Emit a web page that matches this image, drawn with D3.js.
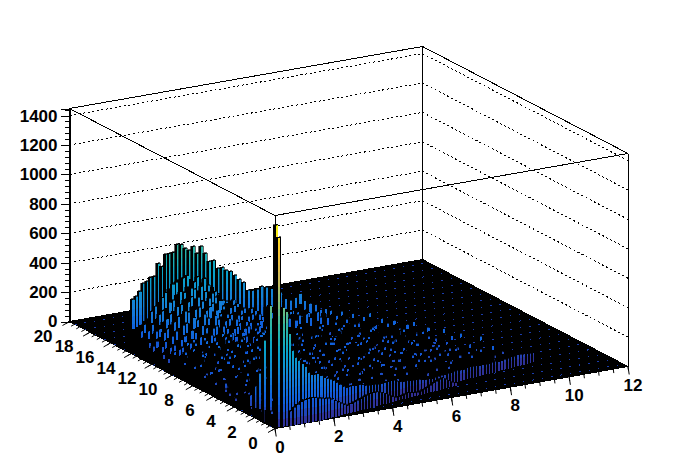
<!DOCTYPE html>
<html><head><meta charset="utf-8">
<script src="https://cdn.jsdelivr.net/npm/d3@7"></script>
<style>html,body{margin:0;background:#fff}svg{display:block}text{font-family:"Liberation Sans",Arial,sans-serif;font-weight:bold;font-size:17px;fill:#000}</style>
</head><body><svg id="c" width="698" height="476"></svg>
<script>
const xLabels=[0,2,4,6,8,10,12];
const yLabels=[0,2,4,6,8,10,12,14,16,18,20];
const zLabels=[0,200,400,600,800,1000,1200,1400];
const birdColors=["#35298a","#0f5cdd","#1481d6","#06a4ca","#2eb7a4","#87bf77","#d1bb59","#fec832","#f9fb0e"];

// tall bars near the front corner and along the x=0 edge: [x, y, z]
const spikeBars=[[.14,.3,1366],[.18,.15,1285],[.18,1,793],[.06,1.2,553],[.06,1.7,310],[.06,2.1,210],[.06,2.6,130],[.06,4.2,56],[.06,5,122],[.06,4.6,70],[.06,9.2,110]];

// outer rim, one bar per x bin
const rimY=[14,14,14,14,13.97,13.96,13.94,13.92,13.9,13.87,13.85,13.81,13.78,13.74,13.7,13.66,13.61,13.57,13.51,13.46,13.4,13.34,13.27,13.2,13.13,13.06,12.98,12.9,12.82,12.73,12.64,12.54,12.44,12.34,12.23,12.11,12,11.88,11.75,11.62,11.49,11.35,11.2,11.05,10.89,10.73,10.56,10.38,10.2,10.01,9.82,9.61,9.4,9.18,8.94,8.7,8.44,8.18,7.89,7.6,7.28,6.95,6.59,6.2,5.79,5.33,4.82,4.24,3.56,2.7];
const rimZ=[366,382,412,462,472,496,499,583,559,639,641,646,697,693,664,648,672,622,668,618,561,566,510,515,494,485,456,427,406,351,350,356,376,369,360,350,335,292,281,300,328,281,263,257,224,232,222,190,220,170,211,148,197,225,150,197,170,194,130,179,205,150,184,120,196,160,190,135,207,170];

// front wall, one bar per x bin starting at bin 2
const wallZ=[809,775,619,500,447,421,394,369,323,303,298,299,280,259,249,237,224,205,186,167,154,156,156,150,152,147,135,129,129,125,120,120,122,122,124,119,107,101,95,97,91,86,87,82,75,70,71,66,68,70,72,70,74,72,76,78,74,72,78,80,76,74,70,72,68,66,70,72,64,66,70,72,76,74,78,76,74,70,66,64];
// low humps in front of the wall, one bar per x bin starting at bin 4
const humpZ=[100,120,135,150,158,162,163,160,152,148,140,136,125,110,95,80,66,54,60,66,72,78,84,90,94,96,95,88,78,66,52,38,27,24,26,30,34,30,26,24,24,30,38,48,58,66,72,75,62,45,30,20];

// rows nearest the rim, one bar per x bin
const innerRowY=[13.2,12.8,12.4,12,11.5,11,10.5];
const innerRowZ=[
[180,220,250,300,330,350,380,410,430,460,470,480,490,500,470,450,480,430,460,410,390,360,340],
[150,190,230,250,290,310,320,360,370,400,420,410,440,430,420,400,430,390,380,370,340,350,310,300,290,300,270,260],
[130,160,200,210,250,270,300,310,340,350,380,360,390,370,380,350,340,360,320,310,330,290,300,270,280,260,240,250,230,240,220,210],
[120,150,170,200,220,240,260,290,300,320,310,340,320,330,310,300,320,280,290,260,280,250,240,250,230,220,230,210,220,200,210,190,250,230,240,220],
[110,130,160,170,190,220,230,250,260,250,290,270,280,300,270,260,280,250,260,230,240,220,230,200,210,200,190,200,180,190,170,180,230,220,240,220,230,200,220,210],
[100,120,140,150,170,180,200,190,230,210,240,250,230,240,220,230,210,220,200,210,190,200,170,180,190,160,170,180,150,170,190,210,230,250,220,230,240,210,230,200,230,210,190],
[90,110,120,140,150,160,170,190,180,200,190,210,200,180,190,200,170,180,190,160,170,180,150,160,140,170,150,140,160,130,180,200,220,200,220,240,200,230,210,230,200,220,230,190,210,180]];

// plateau rows, one value every second x bin; 0 where no bar shows above the plateau
const plateauRowY=[10,9.5,9,8.5,8,7.5,7,6.5,6,5.5,5,4.5,4,3.5,3,2.5,2,1.5,1,.5];
const plateauRowZ=[
[153,0,0,187,126,0,171,0,208,143,0,0,167,118,0,0,151,0,129,0,0,162,104,0,137],
[0,139,176,0,0,122,0,193,0,0,148,171,0,0,109,156,0,133,0,0,121,0,0,145,0,98,0],
[117,0,0,158,0,182,129,0,0,164,0,0,136,189,0,0,112,0,147,0,0,126,158,0,0,103,0,131],
[0,0,142,0,113,0,168,0,147,0,0,198,0,0,124,0,159,0,0,106,137,0,0,118,0,0,149,0,92],
[128,0,0,97,0,156,0,0,179,121,0,0,149,0,0,107,0,138,0,0,166,0,94,0,126,0,0,111,0,143],
[0,92,0,0,148,0,0,124,0,0,171,0,0,103,141,0,0,119,0,152,0,0,128,0,0,88,134,0,0,116,0],
[104,0,131,0,0,86,162,0,0,139,0,0,113,0,168,0,97,0,0,126,0,0,145,0,99,0,0,121,0,0,137,0],
[0,0,84,0,142,0,0,108,0,157,0,122,0,0,94,0,136,0,0,163,0,0,89,117,0,0,142,0,0,102,0,128],
[92,0,0,118,0,0,136,0,0,83,148,0,0,127,0,0,109,0,153,0,0,96,0,0,131,0,0,84,119,0,0,107,0],
[0,74,0,0,103,0,0,152,0,112,0,0,88,0,139,0,0,121,0,0,79,144,0,0,102,0,127,0,0,91,0,0,116],
[81,0,0,126,0,0,94,0,0,137,0,106,0,0,82,131,0,0,98,0,0,118,0,0,143,0,76,0,0,112,0,88,0,0],
[0,0,68,0,113,0,0,142,0,0,87,0,124,0,0,99,0,0,134,0,83,0,0,108,0,0,129,0,92,0,0,117,0,0],
[58,0,0,96,0,0,121,0,78,0,0,132,0,0,104,0,86,0,0,127,0,0,93,0,0,138,0,0,79,0,112,0,0,96,0,0,74,0],
[0,66,0,0,84,0,0,109,0,0,128,0,91,0,0,116,0,0,77,0,141,0,0,98,0,0,119,0,0,87,0,106,0,0,123,0,0,82],
[0,0,72,0,0,103,0,0,118,0,76,0,0,129,0,0,94,0,0,108,0,83,0,0,124,0,0,71,0,102,0,0,117,0,0,69,0],
[54,0,0,88,0,0,111,0,0,74,0,126,0,0,97,0,0,116,0,81,0,0,104,0,0,73,0,0,92,0],
[0,79,0,0,97,0,0,68,0,122,0,0,89,0,0,107,0,0,76,0,94,0,0],
[71,0,0,116,0,0,84,0,131,0,0,93,0,0,72,0],
[0,112,0,0,87,0,126,0,0],
[96,0]];
// a second set of plateau bars half a row behind, shifted by one x bin
const plateauMidY=[9.75,9.25,8.75,8.25,7.75,7.25,6.75,6.25,5.75,5.25,4.75,4.25,3.75,3.25];
const plateauMidZ=[
[0,212,0,0,168,0,231,0,0,184,0,0,206,0,158,0,0,187,0,0,149,0,176,0,0],
[174,0,0,226,0,0,149,0,197,0,0,218,0,0,172,0,143,0,0,191,0,0,134,0,163,0],
[0,0,153,0,204,0,0,181,0,0,229,0,136,0,0,199,0,0,161,0,0,178,0,0,128,0,152],
[0,189,0,0,142,0,217,0,0,163,0,0,194,0,0,147,0,186,0,0,157,0,0,139,0,171,0,0],
[146,0,0,178,0,0,126,0,203,0,0,154,0,179,0,0,132,0,0,168,0,124,0,0,183,0,0,118,0],
[0,0,119,0,196,0,0,162,0,0,137,0,208,0,0,121,0,173,0,0,146,0,0,159,0,127,0,0,168,0],
[133,0,0,154,0,0,183,0,114,0,0,176,0,0,148,0,0,191,0,129,0,0,164,0,0,138,0,0,112,0,155],
[0,102,0,0,167,0,0,129,0,186,0,0,143,0,112,0,0,158,0,0,173,0,0,106,0,149,0,0,133,0,0,119],
[0,0,126,0,0,143,0,171,0,0,108,0,0,163,0,0,135,0,119,0,0,152,0,0,127,0,0,146,0,0,101,0],
[96,0,0,152,0,0,116,0,0,139,0,178,0,0,103,0,148,0,0,124,0,0,137,0,108,0,0,154,0,0,118,0,0],
[0,0,108,0,0,131,0,0,162,0,93,0,0,134,0,0,118,0,156,0,0,99,0,0,141,0,113,0,0,128,0,0,104,0],
[83,0,0,119,0,0,147,0,0,106,0,0,158,0,0,122,0,0,97,0,138,0,0,116,0,0,133,0,88,0,0,121,0,0,96,0],
[0,93,0,0,128,0,0,98,0,141,0,0,112,0,0,136,0,104,0,0,127,0,0,89,0,118,0,0,132,0,0,94,0,0,108,0,0],
[0,0,101,0,0,124,0,0,86,0,133,0,0,109,0,0,121,0,0,92,0,114,0,0,83,0,127,0,0,99,0,0,112,0,0,78,0]];

const F=[275,428.5],XV=[353,-62],YV=[-205.5,-107];
const xS=d3.scaleLinear([0,12],[0,1]),yS=d3.scaleLinear([0,20],[0,1]);
const zTop=1448,zPix=d3.scaleLinear([0,zTop],[321.5,108.5]);
const zH=z=>321.5-zPix(z);
const P=(x,y,z=0)=>[F[0]+xS(x)*XV[0]+yS(y)*YV[0],F[1]+xS(x)*XV[1]+yS(y)*YV[1]-zH(z)];
const pal=d3.piecewise(d3.interpolateRgb,birdColors),colorS=d3.scaleLinear([0,100,1366],[0,.09,1]).clamp(true);
const color=z=>pal(colorS(z));
const svg=d3.select("#c");
const pts=a=>a.map(p=>p.map(v=>v.toFixed(1)).join(",")).join(" ");
const seg=(g,a,b,o={})=>g.append("line").attr("x1",a[0]).attr("y1",a[1]).attr("x2",b[0]).attr("y2",b[1]).attr("stroke",o.c||"#000").attr("stroke-width",o.w||1).attr("stroke-dasharray",o.d||null);

// walls
const back=svg.append("g").attr("shape-rendering","crispEdges");
zLabels.slice(1).forEach(z=>{seg(back,P(0,20,z),P(12,20,z),{d:"2 2.6"});seg(back,P(12,20,z),P(12,0,z),{d:"2 2.6"});});
seg(back,P(0,20,zTop),P(12,20,zTop));seg(back,P(12,20,zTop),P(12,0,zTop));
seg(back,P(12,20,0),P(12,20,zTop));seg(back,P(12,0,0),P(12,0,zTop));seg(back,P(0,20,0),P(0,20,zTop));
seg(back,P(0,20,zTop),P(0,0,zTop));seg(back,P(0,0,zTop),P(12,0,zTop));seg(back,P(0,0,0),P(0,0,zTop));

// floor: empty bins, their outlines nearly fill them
const fl=svg.append("g").attr("shape-rendering","crispEdges");
fl.append("polygon").attr("points",pts([P(0,0),P(12,0),P(12,20),P(0,20)])).attr("fill","#000").attr("stroke","#000");
d3.range(.45,20,.95).forEach(y=>seg(fl,P(0,y),P(12,y),{c:"#1a3cac",d:"1.5 8"}));

// bars
const dx=.12,dy=.1,items=[];
const addBar=(x,y,z,cap=0,plain=false,strip=.6)=>{if(z>0)items.push({x,y,z,cap,plain,strip});};
spikeBars.forEach(b=>addBar(b[0]-.06,b[1],b[2]));
rimZ.forEach((z,i)=>addBar(i*dx,rimY[i],z,z>=330?.55*z:(i<46?70:28)));
wallZ.forEach((z,i)=>{const x=(i+2)*dx;addBar(x,.3*x,z,0,false,i<24?.6:.4);});
humpZ.forEach((z,i)=>{const x=(i+4)*dx;addBar(x,Math.max(0,.3*x-.45),z,0,false,i<20?.6:.4);});
// about a third of these bars sit behind their neighbours and show only their black outline
innerRowZ.forEach((row,j)=>row.forEach((z,i)=>addBar(i*dx,innerRowY[j],z,.22*z+10,(i+2*j)%3===2)));
const addPlateau=(row,y,off)=>{let last=row.find(v=>v>0)||0;row.forEach((z,c)=>{
  if(z>0)last=z;
  const x=(c*2+off)*dx;
  items.push({x,y:y+.001,z:Math.min(last,110)*.8,skirt:true});
  addBar(x,y,z,18);
});};
plateauRowZ.forEach((row,j)=>addPlateau(row,plateauRowY[j],0));
plateauMidZ.forEach((row,j)=>addPlateau(row,plateauMidY[j],1));
items.sort((a,b)=>(b.y-a.y)||(b.x-a.x));
const polys=[];
const face=(x,y,w,z0,z1)=>[P(x,y,z0),P(x+w,y,z0),P(x+w,y,z1),P(x,y,z1)];
items.forEach(b=>{
  if(b.skirt){polys.push({p:pts(face(b.x,b.y,dx*2,0,b.z)),f:"#000",s:"#000"});return;}
  const z0=b.cap?Math.max(0,b.z-b.cap):0;
  polys.push({p:pts([P(b.x,b.y,0),P(b.x,b.y+dy,0),P(b.x,b.y+dy,b.z),P(b.x,b.y,b.z)]),f:"#000",s:"#000"});
  polys.push({p:pts(face(b.x,b.y,dx,0,b.z)),f:"#000",s:"#000"});
  if(!b.plain){
    const step=50,sw=dx*b.strip,sx=b.x+dx*.94-sw;
    for(let k=Math.floor(z0/step);k*step<b.z;k++){
      const a=Math.max(z0,k*step),c=Math.min(b.z,(k+1)*step);
      polys.push({p:pts(face(sx,b.y,sw,a,c)),f:color((a+c)/2),s:"none"});
    }
  }
  polys.push({p:pts([P(b.x,b.y,b.z),P(b.x+dx,b.y,b.z),P(b.x+dx,b.y+dy,b.z),P(b.x,b.y+dy,b.z)]),f:"#000",s:"#000"});
});
svg.append("g").attr("shape-rendering","crispEdges").selectAll("polygon").data(polys).join("polygon")
  .attr("points",d=>d.p).attr("fill",d=>d.f).attr("stroke",d=>d.s).attr("stroke-width",.6);

// z axis
const za=svg.append("g").attr("transform","translate(69.5,0)").attr("shape-rendering","crispEdges");
za.append("g").call(d3.axisLeft(zPix).tickValues(d3.range(0,1441,40)).tickSize(4.5).tickFormat(""));
za.append("g").call(d3.axisLeft(zPix).tickValues(zLabels).tickSize(9).tickPadding(3).tickFormat(d3.format("d")));
za.selectAll(".domain").attr("stroke","#000");
za.selectAll("text").style("font-family",'"Liberation Sans",Arial,sans-serif').style("font-weight","bold").style("font-size","17px");

// x and y axes
const tk=svg.append("g");
const ticks=(vals,pos,dir)=>vals.forEach(v=>{const a=pos(v);seg(tk,a,[a[0]+dir[0],a[1]+dir[1]]);});
ticks(d3.range(0,12.01,.5),v=>P(v,0),[.5,4]);
ticks(xLabels,v=>P(v,0),[1.2,8]);
ticks(d3.range(0,20.01,.5),v=>P(0,v),[-3.5,2]);
ticks(yLabels,v=>P(0,v),[-7,4]);
tk.append("g").selectAll("text").data(xLabels).join("text").attr("text-anchor","middle")
  .attr("x",v=>P(v,0)[0]+5).attr("y",v=>P(v,0)[1]+24).text(v=>v);
tk.append("g").selectAll("text").data(yLabels).join("text").attr("text-anchor","middle")
  .attr("x",v=>P(0,v)[0]-22-.22*v).attr("y",v=>P(0,v)[1]+20).text(v=>v);
</script></body></html>
